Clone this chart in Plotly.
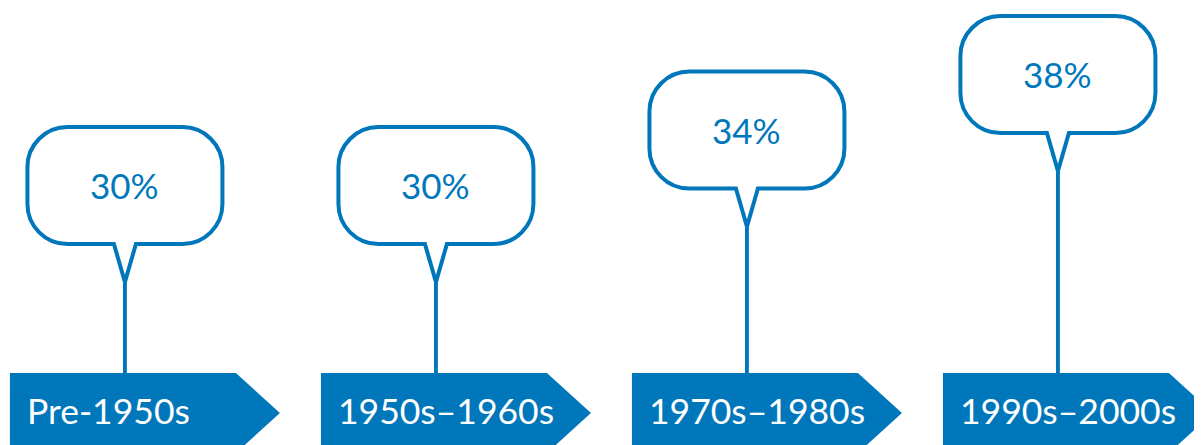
import plotly.graph_objects as go

categories = ["Pre-1950s", "1950s\u20131960s", "1970s\u20131980s", "1990s\u20132000s"]
values = [30, 30, 34, 38]
value_labels = ["30%", "30%", "34%", "38%"]

BLUE = "#0077BB"
x_idx = list(range(len(categories)))

fig = go.Figure()

# stems (thin bars rising to each value)
fig.add_trace(go.Bar(
    x=x_idx, y=values, base=0, width=0.0125,
    marker=dict(color=BLUE, line=dict(width=0)),
    hoverinfo="skip", showlegend=False,
))

# bubble geometry (pixels, relative to the tip)
hw, yb, yt, r, pw = 97.5, 39, 156, 40, 11
k = 0.5523 * r
bubble = (
    f"M {-pw},{yb} L 0,1 L {pw},{yb} L {hw - r},{yb} "
    f"C {hw - r + k},{yb} {hw},{yb + r - k} {hw},{yb + r} "
    f"L {hw},{yt - r} "
    f"C {hw},{yt - r + k} {hw - r + k},{yt} {hw - r},{yt} "
    f"L {-hw + r},{yt} "
    f"C {-hw + r - k},{yt} {-hw},{yt - r + k} {-hw},{yt - r} "
    f"L {-hw},{yb + r} "
    f"C {-hw},{yb + r - k} {-hw + r - k},{yb} {-hw + r},{yb} Z"
)
banner = "M -115,80 L 111,80 L 155,40 L 111,0 L -115,0 Z"

shapes = []
annotations = []
for i, (cat, v, lab) in enumerate(zip(categories, values, value_labels)):
    shapes.append(dict(
        type="path", layer="above", xref="x", yref="paper",
        xsizemode="pixel", ysizemode="pixel", xanchor=i, yanchor=0,
        path=banner, fillcolor=BLUE, line=dict(width=0),
    ))
    shapes.append(dict(
        type="path", layer="above", xref="x", yref="y",
        xsizemode="pixel", ysizemode="pixel", xanchor=i, yanchor=v,
        path=bubble, fillcolor="white", line=dict(color=BLUE, width=4),
    ))
    annotations.append(dict(
        x=i, y=v, xref="x", yref="y", text=lab, showarrow=False,
        yshift=98, font=dict(family="Lato", size=35, color=BLUE),
    ))
    annotations.append(dict(
        x=i, y=0, xref="x", yref="paper", text=cat, showarrow=False,
        xanchor="left", yanchor="middle", xshift=-100, yshift=43,
        font=dict(family="Lato", size=35.5, color="white"),
    ))

fig.update_layout(
    width=1202, height=445, autosize=False,
    margin=dict(l=0, r=0, t=0, b=0),
    paper_bgcolor="white", plot_bgcolor="white",
    xaxis=dict(range=[-0.376, 3.489], visible=False, fixedrange=True),
    yaxis=dict(range=[17.75, 49.82], visible=False, fixedrange=True),
    shapes=shapes, annotations=annotations,
    showlegend=False,
)

fig.write_html("out.html", config={"displayModeBar": False})
